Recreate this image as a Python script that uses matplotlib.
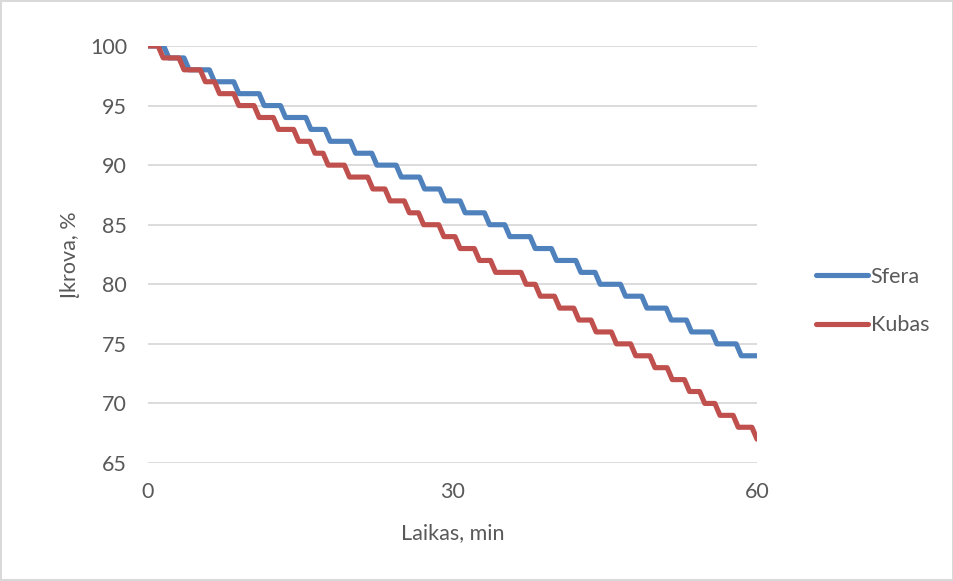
import numpy as np
import matplotlib.pyplot as plt

# --- duomenys (nuskaityta nuo grafiko) ---
# laikas min, kada rodmuo nukrenta vienu procentu
sfera_lygiai = list(range(100, 73, -1))          # 100 ... 74
sfera_kritimai = [1.8, 3.8, 6.3, 8.7, 11.2, 13.3, 15.8, 17.7, 20.2, 22.3,
                  24.7, 27.0, 29.0, 31.0, 33.4, 35.4, 37.9, 40.0, 42.4, 44.3,
                  46.8, 48.9, 51.3, 53.3, 55.8, 58.2]

kubas_lygiai = list(range(100, 66, -1))          # 100 ... 67
kubas_kritimai = [1.25, 3.3, 5.4, 6.8, 8.7, 10.7, 12.6, 14.6, 16.2, 17.5,
                  19.6, 21.9, 23.6, 25.5, 26.9, 28.9, 30.5, 32.4, 34.0, 37.0,
                  38.4, 40.3, 42.2, 43.9, 45.9, 47.8, 49.7, 51.4, 53.1, 54.6,
                  56.1, 57.9, 59.75]

x_ticks = [0, 30, 60]
y_ticks = [65, 70, 75, 80, 85, 90, 95, 100]
t_pab = 60
kritimo_trukme = 0.5


def laiptai(lygiai, kritimai):
    # lauzte: horizontalios atkarpos + trumpi kritimai
    xs, ys = [0], [lygiai[0]]
    for lyg, nxt, t in zip(lygiai[:-1], lygiai[1:], kritimai):
        a = max(t - kritimo_trukme / 2, 0)
        b = min(t + kritimo_trukme / 2, t_pab)
        xs += [a, b]
        ys += [lyg, nxt]
    if xs[-1] < t_pab:
        xs.append(t_pab)
        ys.append(lygiai[-1])
    return xs, ys


plt.rcParams['font.family'] = ['Lato', 'DejaVu Sans']
pilka = '#595959'
fs = 15.5

fig = plt.figure(figsize=(9.54, 5.81), dpi=100)
fig.patch.set_edgecolor('#D9D9D9')
fig.patch.set_linewidth(1.5)
ax = fig.add_axes([148 / 954, 118 / 581, 609 / 954, 417 / 581])

xs, ys = laiptai(sfera_lygiai, sfera_kritimai)
ax.plot(xs, ys, color='#4F81BD', lw=3.7, label='Sfera',
        solid_joinstyle='round', solid_capstyle='round')
xs, ys = laiptai(kubas_lygiai, kubas_kritimai)
ax.plot(xs, ys, color='#C0504D', lw=3.7, label='Kubas',
        solid_joinstyle='round', solid_capstyle='round')

ax.set_xlim(0, 60)
ax.set_ylim(65, 100)
ax.set_xticks(x_ticks)
ax.set_yticks(y_ticks)
ax.grid(axis='y', color='#D9D9D9', lw=1.3)
ax.set_axisbelow(True)
for s in ax.spines.values():
    s.set_visible(False)
ax.tick_params(length=0, labelsize=fs, colors=pilka)
ax.tick_params(axis='x', pad=14)
ax.tick_params(axis='y', pad=15)

ax.set_xlabel('Laikas, min', fontsize=fs, color=pilka, labelpad=15)
ax.set_ylabel('Įkrova, %', fontsize=fs, color=pilka, labelpad=7)

fig.legend(loc='center left', bbox_to_anchor=(807 / 954, 1 - 301 / 581),
           frameon=False, fontsize=fs, labelcolor=pilka,
           handlelength=2.45, handletextpad=0.1, labelspacing=1.33,
           borderaxespad=0)

fig.savefig('out.png', dpi=100)
